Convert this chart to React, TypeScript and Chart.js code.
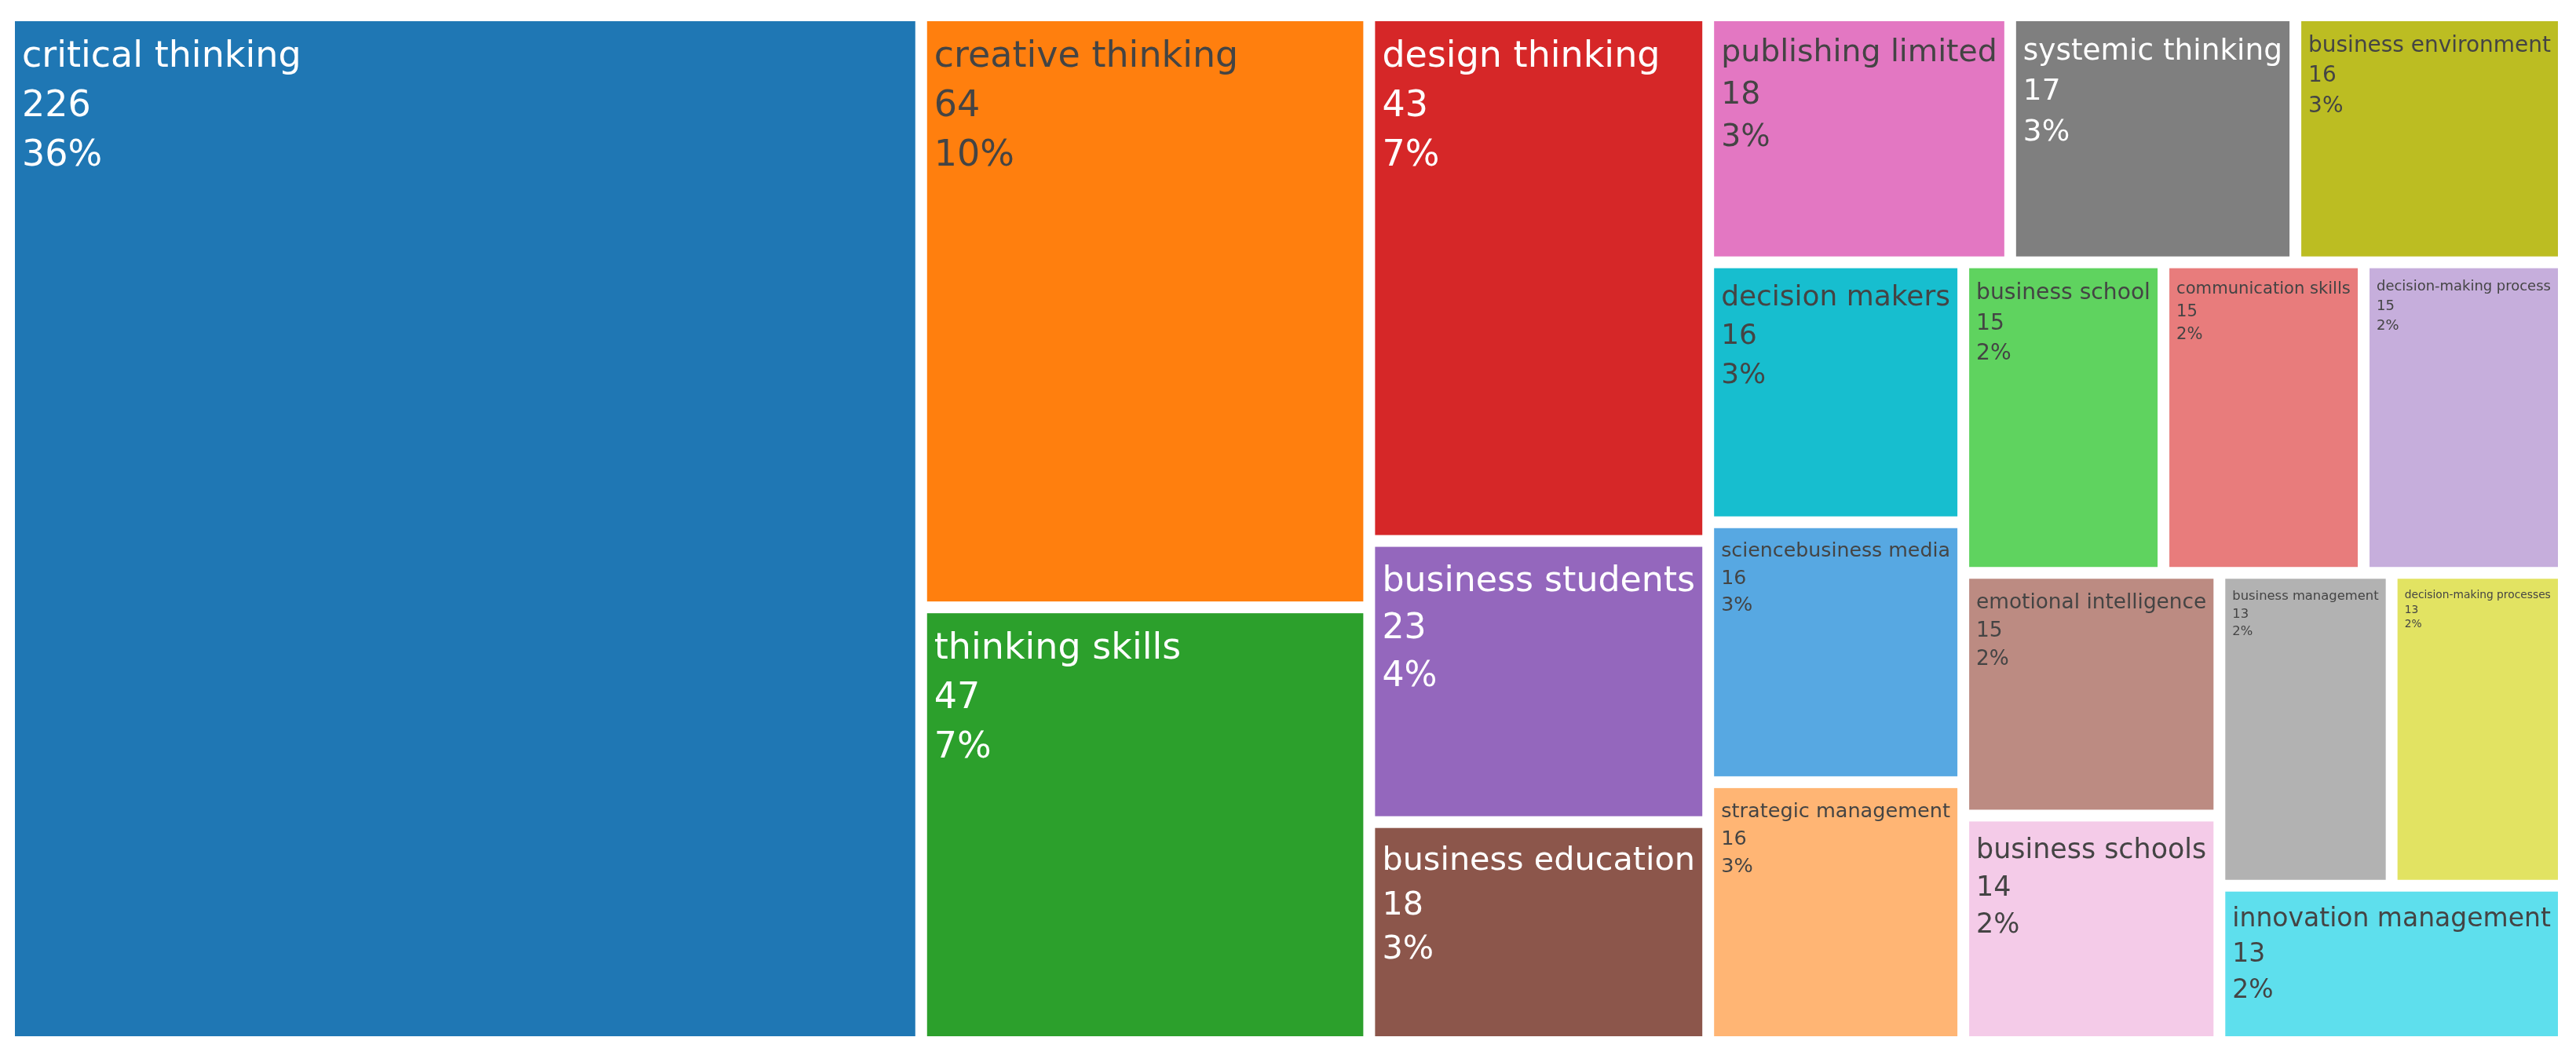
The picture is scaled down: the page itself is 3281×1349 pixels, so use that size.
import React, { useEffect, useRef } from "react";
import { Chart, registerables } from "chart.js";

Chart.register(...registerables);

// ---- data ----
const categories: string[] = [
  "critical thinking",
  "creative thinking",
  "thinking skills",
  "design thinking",
  "business students",
  "business education",
  "publishing limited",
  "systemic thinking",
  "business environment",
  "decision makers",
  "sciencebusiness media",
  "strategic management",
  "business school",
  "communication skills",
  "decision-making process",
  "emotional intelligence",
  "business schools",
  "business management",
  "decision-making processes",
  "innovation management",
];

const counts: number[] = [226, 64, 47, 43, 23, 18, 18, 17, 16, 16, 16, 16, 15, 15, 15, 15, 14, 13, 13, 13];

// ---- style ----
const palette: string[] = [
  "#1f77b4", "#ff7f0e", "#2ca02c", "#d62728", "#9467bd",
  "#8c564b", "#e377c2", "#7f7f7f", "#bcbd22", "#17becf",
  "#57a8e2", "#ffb574", "#5fd35f", "#e87c7c", "#c6aedc",
  "#bc8b82", "#f4cbe8", "#b2b2b2", "#e2e362", "#5edfed",
];

const TILE_W = 275; // tiling domain (aspect used by squarify)
const TILE_H = 100;
const GAP = 15;
const BASE_FONT = 46;
const LINE_H = 63;
const PAD_X = 9;
const PAD_Y = 10;
const FONT_FAMILY = '"DejaVu Sans", Verdana, sans-serif';

type R = { x0: number; y0: number; x1: number; y1: number };

function squarify(vals: number[], x0: number, y0: number, x1: number, y1: number, ratio = 1): R[] {
  const n = vals.length;
  const out: R[] = new Array(n);
  let value = vals.reduce((a, b) => a + b, 0);
  let i0 = 0;
  let i1 = 0;
  while (i0 < n) {
    const dx = x1 - x0;
    const dy = y1 - y0;
    let sumValue = vals[i1++];
    let minValue = sumValue;
    let maxValue = sumValue;
    const alpha = Math.max(dy / dx, dx / dy) / (value * ratio);
    let beta = sumValue * sumValue * alpha;
    let minRatio = Math.max(maxValue / beta, beta / minValue);
    for (; i1 < n; ++i1) {
      const nv = vals[i1];
      sumValue += nv;
      if (nv < minValue) minValue = nv;
      if (nv > maxValue) maxValue = nv;
      beta = sumValue * sumValue * alpha;
      const newRatio = Math.max(maxValue / beta, beta / minValue);
      if (newRatio > minRatio) {
        sumValue -= nv;
        break;
      }
      minRatio = newRatio;
    }
    if (dx < dy) {
      const ny = y0 + (dy * sumValue) / value;
      let cx = x0;
      for (let k = i0; k < i1; k++) {
        const w = ((x1 - x0) * vals[k]) / sumValue;
        out[k] = { x0: cx, y0: y0, x1: cx + w, y1: ny };
        cx += w;
      }
      y0 = ny;
    } else {
      const nx = x0 + (dx * sumValue) / value;
      let cy = y0;
      for (let k = i0; k < i1; k++) {
        const h = ((y1 - y0) * vals[k]) / sumValue;
        out[k] = { x0: x0, y0: cy, x1: nx, y1: cy + h };
        cy += h;
      }
      x0 = nx;
    }
    value -= sumValue;
    i0 = i1;
  }
  return out;
}

function textColorFor(hex: string): string {
  const r = parseInt(hex.slice(1, 3), 16);
  const g = parseInt(hex.slice(3, 5), 16);
  const b = parseInt(hex.slice(5, 7), 16);
  const brightness = (r * 299 + g * 587 + b * 114) / 1000;
  return brightness > 128 ? "#444444" : "#ffffff";
}

const treemapPlugin = {
  id: "treemapCells",
  afterDatasetsDraw(chart: any) {
    const ctx: CanvasRenderingContext2D = chart.ctx;
    const xs = chart.scales.x;
    const ys = chart.scales.y;
    const total = counts.reduce((a, b) => a + b, 0);
    const rects = squarify(counts, 0, 0, TILE_W, TILE_H, 1);
    ctx.save();
    rects.forEach((r, i) => {
      const px0 = xs.getPixelForValue(r.x0) + GAP / 2;
      const px1 = xs.getPixelForValue(r.x1) - GAP / 2;
      const py0 = ys.getPixelForValue(r.y0) + GAP / 2;
      const py1 = ys.getPixelForValue(r.y1) - GAP / 2;
      ctx.fillStyle = palette[i % palette.length];
      ctx.fillRect(px0, py0, px1 - px0, py1 - py0);

      const lines = [categories[i], String(counts[i]), Math.round((counts[i] / total) * 100) + "%"];
      ctx.font = `${BASE_FONT}px ${FONT_FAMILY}`;
      const maxW = Math.max(...lines.map((l) => ctx.measureText(l).width));
      const availW = px1 - px0 - 2 * PAD_X;
      const availH = py1 - py0 - 2 * PAD_Y;
      const blockH = LINE_H * 2 + BASE_FONT * 1.1;
      const k = Math.min(1, availW / maxW, availH / blockH);
      const fs = BASE_FONT * k;
      ctx.font = `${fs}px ${FONT_FAMILY}`;
      ctx.fillStyle = textColorFor(palette[i % palette.length]);
      ctx.textBaseline = "alphabetic";
      ctx.textAlign = "left";
      const tx = px0 + PAD_X;
      let ty = py0 + PAD_Y + 48 * k;
      lines.forEach((l) => {
        ctx.fillText(l, tx, ty);
        ty += LINE_H * k;
      });
    });
    ctx.restore();
  },
};

export default function App() {
  const canvasRef = useRef<HTMLCanvasElement | null>(null);

  useEffect(() => {
    document.body.style.margin = "0";
    const canvas = canvasRef.current;
    if (!canvas) return;
    const chart = new Chart(canvas, {
      type: "scatter",
      data: {
        labels: categories,
        datasets: [
          {
            label: "keywords",
            data: [],
            pointRadius: 0,
          },
        ],
      },
      options: {
        animation: false,
        responsive: false,
        devicePixelRatio: 1,
        layout: { padding: { left: 11.5, right: 15.5, top: 19.5, bottom: 21.5 } },
        scales: {
          x: { type: "linear", min: 0, max: TILE_W, display: false },
          y: { type: "linear", min: 0, max: TILE_H, reverse: true, display: false },
        },
        plugins: {
          legend: { display: false },
          tooltip: { enabled: false },
        },
      },
      plugins: [treemapPlugin],
    });
    return () => chart.destroy();
  }, []);

  return (
    <div style={{ width: 3281, height: 1349, background: "#ffffff" }}>
      <canvas ref={canvasRef} width={3281} height={1349} style={{ display: "block" }} />
    </div>
  );
}
